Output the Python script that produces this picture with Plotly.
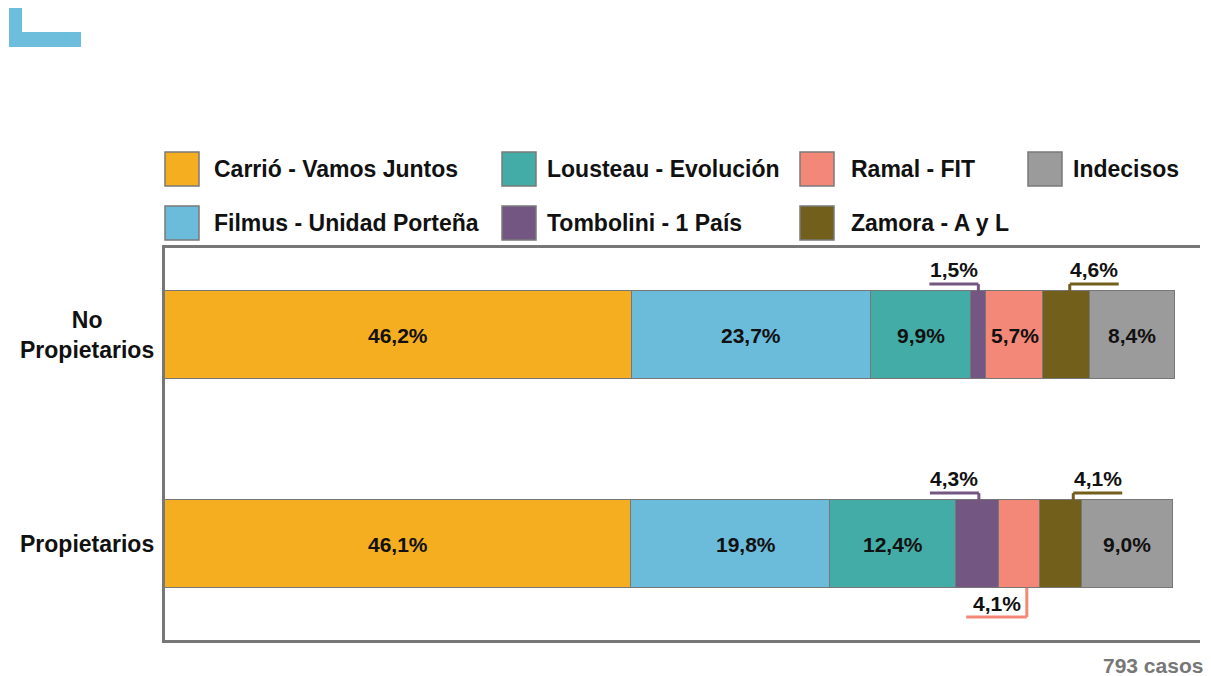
import plotly.graph_objects as go

categories = ["No Propietarios", "Propietarios"]
category_labels = ["No<br>Propietarios", "Propietarios"]
series_names = ["Carrió - Vamos Juntos", "Filmus - Unidad Porteña", "Lousteau - Evolución",
                "Tombolini - 1 País", "Ramal - FIT", "Zamora - A y L", "Indecisos"]
series_colors = ["#F5AE1F", "#6BBBDB", "#44ACA6", "#745683", "#F48878", "#735F1C", "#9B9B9B"]
values_no_prop = [46.2, 23.7, 9.9, 1.5, 5.7, 4.6, 8.4]
values_prop = [46.1, 19.8, 12.4, 4.3, 4.1, 4.1, 9.0]
values = [values_no_prop, values_prop]
cases_note = "793 casos"

# callouts: (category index, series index, side, direction, x nudge, leader length) in axis units
callouts = [(0, 3, "above", "left", 0.0, 4.85), (0, 5, "above", "right", 0.3, 4.85),
            (1, 3, "above", "left", 0.15, 4.85), (1, 5, "above", "right", 1.2, 4.85),
            (1, 4, "below", "left", 0.7, 6.0)]
label_nudge = {(1, 1): 1.5}

FONT = "Liberation Sans, Arial, sans-serif"
W, H = 1211, 676
L, R, T, B = 165, 11, 248, 36
PW, PH = W - L - R, H - T - B
y_pos = [1, 0]
bar_w = 0.42
XMAX = 102.5


def px_x(p):
    return (p - L) / PW


def px_y(p):
    return (H - B - p) / PH


def fmt(v):
    return f"{v:.1f}".replace(".", ",") + "%"


fig = go.Figure()
for s, name in enumerate(series_names):
    fig.add_trace(go.Bar(
        y=y_pos, x=[values[c][s] for c in range(len(categories))], orientation="h",
        name=name, width=bar_w, showlegend=False,
        marker=dict(color=series_colors[s], line=dict(color="#777777", width=1.5)),
        hoverinfo="x+name"))

annotations = []
shapes = []
callout_set = {(c, s): (side, d, nx, seg) for c, s, side, d, nx, seg in callouts}
unit_y = 1 / 209.0
for c in range(len(categories)):
    cum = 0
    for s, v in enumerate(values[c]):
        center = cum + v / 2
        yc = y_pos[c]
        if (c, s) in callout_set:
            side, d, nx, seg = callout_set[(c, s)]
            xv = center + nx
            x_end = xv - seg if d == "left" else xv + seg
            if side == "above":
                edge = yc + bar_w / 2
                ly = edge + 7 * unit_y
                ty = ly + 15 * unit_y
            else:
                edge = yc - bar_w / 2
                ly = edge - 29 * unit_y
                ty = ly + 13 * unit_y
            line = dict(color=series_colors[s], width=3)
            shapes.append(dict(type="line", xref="x", yref="y", x0=xv, x1=xv,
                               y0=edge, y1=ly, line=line, layer="above"))
            shapes.append(dict(type="line", xref="x", yref="y", x0=xv, x1=x_end,
                               y0=ly, y1=ly, line=line, layer="above"))
            annotations.append(dict(x=(xv + x_end) / 2, y=ty, xref="x", yref="y",
                                    text=fmt(v), showarrow=False, xanchor="center", yanchor="middle",
                                    font=dict(family=FONT, size=21, color="#111111", weight="bold")))
        else:
            annotations.append(dict(x=center + label_nudge.get((c, s), 0), y=yc, xref="x", yref="y",
                                    text=fmt(v), showarrow=False, xanchor="center", yanchor="middle",
                                    font=dict(family=FONT, size=21, color="#111111", weight="bold")))
        cum += v

# category labels
for c, lab in enumerate(category_labels):
    annotations.append(dict(x=0, y=y_pos[c], xref="paper", yref="y", text=lab, showarrow=False,
                            xanchor="right", yanchor="middle", align="center", xshift=-9,
                            font=dict(family=FONT, size=23, color="#111111", weight="bold")))

# legend (2 rows, column-major)
col_sq = [165, 502, 800, 1028]
col_tx = [212, 545, 849, 1071]
row_cy = [169, 223]
sq = 34
for s, name in enumerate(series_names):
    col, row = s // 2, s % 2
    x0 = col_sq[col]
    cy = row_cy[row]
    shapes.append(dict(type="rect", xref="paper", yref="paper",
                       x0=px_x(x0), x1=px_x(x0 + sq), y0=px_y(cy + sq / 2), y1=px_y(cy - sq / 2),
                       fillcolor=series_colors[s], line=dict(color="#7a7a7a", width=1.5)))
    annotations.append(dict(x=px_x(col_tx[col]), y=px_y(cy), xref="paper", yref="paper", text=name,
                            showarrow=False, xanchor="left", yanchor="middle",
                            font=dict(family=FONT, size=23, color="#111111", weight="bold")))

# cases note
annotations.append(dict(x=px_x(1205), y=px_y(665), xref="paper", yref="paper", text=cases_note,
                        showarrow=False, xanchor="right", yanchor="middle",
                        font=dict(family=FONT, size=21, color="#777777", weight="bold")))

# logo
logo_color = "#6DBDDD"
shapes.append(dict(type="rect", xref="paper", yref="paper", x0=px_x(9), x1=px_x(22),
                   y0=px_y(47), y1=px_y(8), fillcolor=logo_color, line=dict(width=0)))
shapes.append(dict(type="rect", xref="paper", yref="paper", x0=px_x(9), x1=px_x(81),
                   y0=px_y(47), y1=px_y(32), fillcolor=logo_color, line=dict(width=0)))

fig.update_layout(
    width=W, height=H, barmode="stack", bargap=0,
    margin=dict(l=L, r=R, t=T, b=B),
    paper_bgcolor="white", plot_bgcolor="white",
    xaxis=dict(range=[0, XMAX], showgrid=False, zeroline=False, showticklabels=False,
               showline=True, mirror=True, linecolor="#777777", linewidth=2.5, ticks=""),
    yaxis=dict(range=[-96 / 209, 1 + 87 / 209], showgrid=False, zeroline=False,
               showticklabels=False, showline=True, linecolor="#777777", linewidth=3, ticks=""),
    annotations=annotations, shapes=shapes, showlegend=False,
)
fig.write_html("out.html", config={"displayModeBar": False},
               post_script="document.body.style.margin='0';document.body.style.overflow='hidden';")
